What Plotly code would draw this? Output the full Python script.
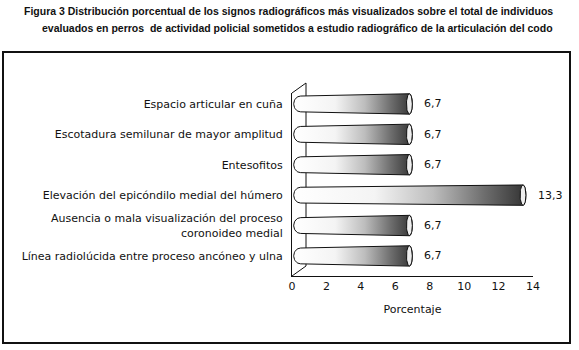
import numpy as np
import plotly.graph_objects as go

# ---------------- data ----------------
categories = [
    "Espacio articular en cuña",
    "Escotadura semilunar de mayor amplitud",
    "Entesofitos",
    "Elevación del epicóndilo medial del húmero",
    "Ausencia o mala visualización del proceso<br>coronoideo medial",
    "Línea radiolúcida entre proceso ancóneo y ulna",
]
values = [6.7, 6.7, 6.7, 13.3, 6.7, 6.7]
value_labels = ["6,7", "6,7", "6,7", "13,3", "6,7", "6,7"]
x_ticks = [0, 2, 4, 6, 8, 10, 12, 14]
title_line1 = "Figura 3 Distribución porcentual de los signos radiográficos más visualizados sobre el total de individuos"
title_line2 = "evaluados en perros  de actividad policial sometidos a estudio radiográfico de la articulación del codo"
x_title = "Porcentaje"

# ---------------- layout geometry (pixels) ----------------
W, H = 579, 350
L, R, T, B = 292, 46, 93, 74
PW, PH = W - L - R, H - T - B


def px(xp):
    return (xp - L) / PW


def py(yp):
    return (H - B - yp) / PH


FONT = "DejaVu Sans, Verdana, sans-serif"
TFONT = "Liberation Sans Narrow, Arial Narrow, Liberation Sans"
FS = 11
fig = go.Figure()

n = len(categories)
cats_b = categories[::-1]
vals_b = values[::-1]
labs_b = value_labels[::-1]

colorscale = [[0.0, "#ffffff"], [0.35, "#f4f4f4"], [0.6, "#bdbdbd"], [0.82, "#6e6e6e"], [1.0, "#333333"]]

xs_left = 0.5
r_left = 0.4
h0, h1 = 0.26, 0.335
rx_cap = 0.17
cap_off = 0.12

for i, v in enumerate(vals_b):
    yc = i
    xe = v + cap_off
    t1 = np.linspace(np.pi / 2, 3 * np.pi / 2, 30)
    xl = xs_left + r_left * np.cos(t1)
    yl = yc + h0 * np.sin(t1)
    t2 = np.linspace(-np.pi / 2, np.pi / 2, 30)
    xr = xe + rx_cap * np.cos(t2)
    yr = yc + h1 * np.sin(t2)
    xx = np.concatenate([xl, xr, [xl[0]]])
    yy = np.concatenate([yl, yr, [yl[0]]])
    fig.add_trace(go.Scatter(
        x=xx, y=yy, mode="lines", fill="toself",
        fillgradient=dict(type="horizontal", colorscale=colorscale),
        line=dict(color="#111111", width=1), hoverinfo="skip", showlegend=False,
    ))
    t3 = np.linspace(0, 2 * np.pi, 50)
    fig.add_trace(go.Scatter(
        x=xe + rx_cap * np.cos(t3), y=yc + h1 * np.sin(t3), mode="lines", fill="toself",
        fillcolor="#eeeeee", line=dict(color="#111111", width=1),
        hoverinfo="skip", showlegend=False,
    ))
    fig.add_annotation(x=v, y=yc, text=labs_b[i], showarrow=False, xanchor="left",
                       xshift=15, font=dict(family=FONT, size=FS, color="#111111"))

shapes = []
shapes.append(dict(type="rect", xref="paper", yref="paper", x0=px(3), x1=px(570), y0=py(343), y1=py(52),
                   line=dict(color="#111111", width=2), layer="below"))
wall = [((292, 93), (306, 83)), ((306, 83), (306, 266)), ((292, 276), (306, 266))]
for (a, b) in wall:
    shapes.append(dict(type="line", xref="paper", yref="paper", x0=px(a[0]), y0=py(a[1]),
                       x1=px(b[0]), y1=py(b[1]), line=dict(color="#111111", width=1), layer="below"))

fig.add_annotation(xref="paper", yref="paper", x=px(555), y=py(11), xanchor="right", yanchor="middle",
                   text="<b>" + title_line1 + "</b>", showarrow=False,
                   font=dict(family=TFONT, size=10.5, color="#111111"))
fig.add_annotation(xref="paper", yref="paper", x=px(555), y=py(28), xanchor="right", yanchor="middle",
                   text="<b>" + title_line2 + "</b>", showarrow=False,
                   font=dict(family=TFONT, size=10.5, color="#111111"))

fig.update_layout(
    width=W, height=H,
    margin=dict(l=L, r=R, t=T, b=B, pad=0),
    paper_bgcolor="white", plot_bgcolor="rgba(0,0,0,0)",
    shapes=shapes,
    font=dict(family=FONT, size=FS, color="#111111"),
    xaxis=dict(range=[0, 14], tickvals=x_ticks, showline=True, linecolor="#111111", linewidth=1,
               showgrid=False, zeroline=False, ticks="",
               title=dict(text=x_title, standoff=13, font=dict(family=FONT, size=FS))),
    yaxis=dict(range=[-0.66, 5.36], tickvals=list(range(n)), ticktext=cats_b, showline=True,
               linecolor="#111111", linewidth=1, showgrid=False, zeroline=False,
               ticks="outside", ticklen=6, tickcolor="rgba(0,0,0,0)"),
)

fig.write_html("out.html", config={"displayModeBar": False},
               post_script="document.body.style.margin='0';document.body.style.overflow='hidden';")
